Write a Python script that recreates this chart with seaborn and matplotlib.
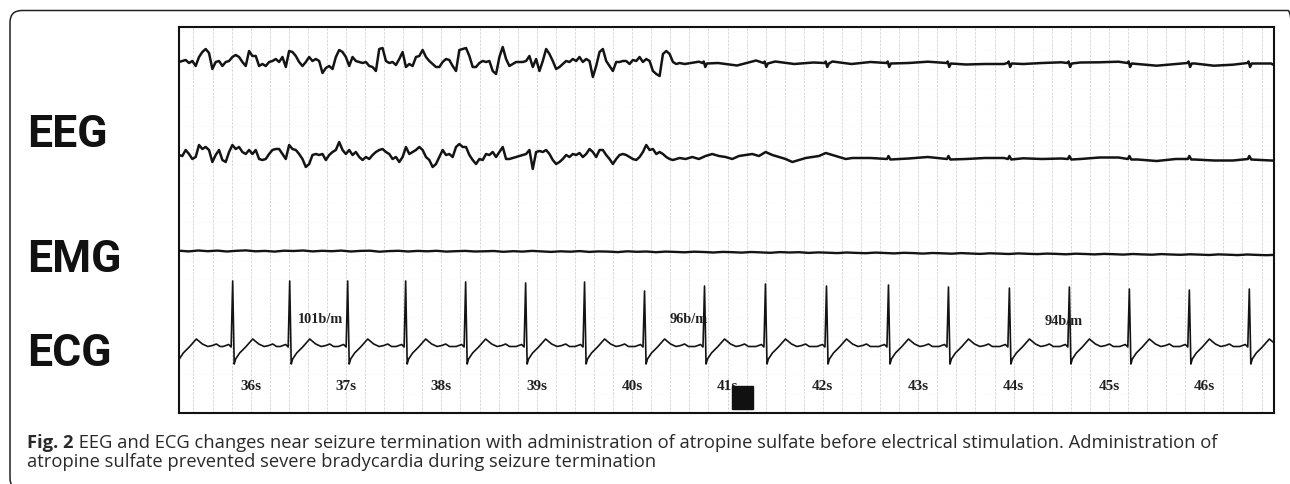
import numpy as np
import pandas as pd
import seaborn as sns
import matplotlib.pyplot as plt
from matplotlib.patches import FancyBboxPatch, Rectangle
from matplotlib.transforms import IdentityTransform

# ---- data (time in s, amplitude in trace units) ----
seconds = [36, 37, 38, 39, 40, 41, 42, 43, 44, 45, 46]
sec_labels = [str(s) + 's' for s in seconds]

# R peak times and R heights of every QRS (first one sits just left of the strip)
r_times = [35.22, 35.811, 36.409, 37.017, 37.625, 38.254, 38.883, 39.501, 40.130,
           40.759, 41.398, 42.038, 42.688, 43.317, 43.956, 44.585, 45.214, 45.843, 46.472]
r_heights = [66, 66, 66, 66, 66, 65, 64, 65, 56, 61, 63, 61, 62, 60, 59, 60, 58, 57, 58]
# shape of one beat around the R peak (None = R height of that beat)
beat_offsets = [-0.10, -0.042, -0.016, 0.0, 0.016, 0.031, 0.073, 0.136, 0.210, 0.273, 0.330, 0.380, 0.420, 0.460]
beat_values = [0.5, 2.5, 0.0, None, -17, -12, -6, 0, 8, 3, 0.5, 1.5, 3, 0.5]

hr_labels = ['101b/m', '96b/m', '94b/m']
hr_times = [36.73, 40.59, 44.53]
hr_levels = [93.5, 93.5, 91.5]

# EEG during the seizure, one sample every 0.035 s from 35.248 s
eeg_t0 = 35.248
eeg_dt = 0.035
eeg1_seizure = [2, 3, 4, 1, 3, -2, 7, 12, 15, 11, -5, 2, 3, -2, 2, 3, 7, 9, 7, 2,
                -2, 13, 8, 8, -2, 0, -2, 2, 3, 5, 2, 7, -3, 13, 12, 8, 2, -2, 2, 7,
                3, 5, 3, -9, -4, -2, -5, 7, 14, 12,
                7, -2, 7, 3, 2, 1, 2, -2, -3, -7, 15, 16, 3, 1, 2, -1, 5, 12, -3, 0,
                -2, 7, 8, 14, 7, 3, 0, -3, -3, 2, 5, 4, -2, -7, 14, 15, 16, 8, -3, -3,
                1, 3, 2, 3, -7, -10, 7, 17, 5,
                -2, 0, 2, 2, 2, 3, 8, -3, 5, -7, 3, 15, 10, 3, -5, -3, 0, 3, 2, 5,
                3, 7, 2, 5, 3, -13, -2, 12, 15, 3, -2, -7, 2, 2, 3, 3, 0, 4, 3, 7,
                2, 5, 3, -7, -10, -12, 10, 13, 10, 2, 0, 1]
eeg2_seizure = [2, 1, 7, 3, -2, 0, 12, 8, 10, 7, -5, 2, 7, -3, -5, 5, 12, 8, 10, 5,
                3, 7, 3, 7, -2, -3, -2, 3, 7, 8, 8, 3, -2, 12, 8, 7, 3, -2, -10, -7,
                2, 3, 2, 3, -3, 2, 5, 7, 15, 7,
                3, 7, 2, 5, 0, -3, 0, -2, 2, 5, 7, 8, 5, 3, -2, 0, -5, 0, 10, 3,
                5, 7, 10, 7, 0, -3, -10, -7, 0, 7, 2, 3, 0, 10, 13, 10, 10, 2, -3, -7,
                -2, -3, 3, 2, 5, 0, 5, 10, -2,
                -2, -1, 0, 1, 2, 3, 7, -12, 5, 6, 5, 7, 3, -3, -7, -5, -2, 2, 0, 3,
                2, 4, 0, 3, 8, 5, 0, 7, 7, 2, -2, -7, -2, 2, 3, 2, 0, -2, -3, 0,
                5, 12, 7, 8, 3, 5, 3, 0, -2, -3, -2, -1]
# low-amplitude tail of the second channel, every 0.07 s from 40.56 s
eeg2_tail_t0 = 40.56
eeg2_tail_dt = 0.07
eeg2_tail = [-2, 0, -2, 1, 3, 1, 0, -2, 1, 2, 3, 1, 5, 2, 0, -2, -5, -3, -1, 0,
             1, 4, 2, 0, -2, -1, -1]
# after seizure termination
eeg1_flat_t = [40.55, 40.7, 40.9, 41.1, 41.3, 41.5, 41.7, 41.9, 42.1, 42.3, 42.5, 42.9,
               43.1, 43.5, 43.7, 43.9, 44.1, 44.3, 44.5, 44.7, 44.9, 45.1, 45.3, 45.5,
               45.7, 45.9, 46.1, 46.3, 46.7, 46.74]
eeg1_flat_v = [0, 2.3, 1, -1.5, 3.5, 2.5, 0, 1.5, 2.5, 0, 2, 1,
               2.3, -0.5, 0, 0, 0, 1, 1.7, 1.5, 1.7, 2.3, 0, -1.7,
               0, 0.5, -1.7, -0.7, 0.5, -1.5]
eeg2_flat_t = [42.5, 42.9, 43.1, 43.5, 43.7, 43.9, 44.1, 44.3, 44.5, 44.7, 44.9, 45.1,
               45.3, 45.5, 45.7, 45.9, 46.1, 46.3, 46.6, 46.74]
eeg2_flat_v = [-1, -1.5, 0, -2, -1, -1, -1.3, -2, -1.5, -2, -0.5, -0.5,
               -2.5, -4, -2, -2.5, -3.5, -3.5, -3, -3.7]
# ECG pick-up on the EEG leads at each beat
eeg1_art_off = [-0.02, -0.008, 0.008, 0.025]
eeg1_art_val = [1, 2.5, -3, 0.5]
eeg2_art_off = [-0.015, 0.0, 0.02]
eeg2_art_val = [-2, 1, -2.5]

# EMG, every 0.1 s from 35.25 s
emg_t0 = 35.25
emg_dt = 0.1
emg = [0.3, -0.4, 0.5, -0.2, 0.4, -0.5, 0.2, 0.6, -0.3, 0.1,
       -0.6, 0.3, 0.0, 0.5, -0.4, 0.2, -0.2, 0.4, -0.5, 0.1,
       0.3, -0.7, -0.1, 0.2, -0.5, 0.1, -0.3, 0.2, -0.6, -0.2,
       0.1, -0.5, -0.3, 0.0, -0.8, -0.2, -0.6, 0.1, -0.4, -0.9,
       -0.3, -0.7, -0.1, -0.9, -0.4, -0.6, -1.1, -0.3, -0.8, -0.5,
       -1.2, -0.6, -0.9, -1.3, -0.7, -1.0, -1.5, -0.9, -1.2, -1.6,
       -1.0, -1.4, -1.8, -1.1, -1.5, -1.2, -1.9, -1.4, -1.7, -2.1,
       -1.5, -1.9, -2.2, -1.6, -2.0, -2.4, -1.8, -2.1, -2.6, -2.0,
       -2.3, -2.7, -2.1, -2.5, -2.9, -2.3, -2.6, -3.0, -2.4, -2.8,
       -3.1, -2.6, -2.9, -3.3, -2.7, -3.0, -3.4, -2.9, -3.2, -3.6,
       -3.0, -3.4, -3.7, -3.1, -3.5, -3.8, -3.3, -3.6, -4.0, -3.4,
       -3.7, -4.1, -3.5, -3.9, -4.2, -3.8]

stim_marker = (41.05, 41.27)   # black square under 41s

# ---- build traces ----
def uniform(t0, dt, vals):
    return list(t0 + dt * np.arange(len(vals))), list(vals)

def artifacts(beats, offs, vals, after):
    tt, vv = [], []
    for b in beats:
        if b > after:
            tt += [b + o for o in offs]
            vv += vals
    return tt, vv

def frame(*parts):
    t = sum([p[0] for p in parts], [])
    v = sum([p[1] for p in parts], [])
    return pd.DataFrame({'t': t, 'v': v}).sort_values('t')

eeg1 = frame(uniform(eeg_t0, eeg_dt, eeg1_seizure), (eeg1_flat_t, eeg1_flat_v),
             artifacts(r_times, eeg1_art_off, eeg1_art_val, 40.6))
eeg2 = frame(uniform(eeg_t0, eeg_dt, eeg2_seizure), uniform(eeg2_tail_t0, eeg2_tail_dt, eeg2_tail),
             (eeg2_flat_t, eeg2_flat_v), artifacts(r_times, eeg2_art_off, eeg2_art_val, 42.4))
emg_df = frame(uniform(emg_t0, emg_dt, emg))
ecg_t, ecg_v = [], []
for rt, rh in zip(r_times, r_heights):
    ecg_t += [rt + o for o in beat_offsets]
    ecg_v += [rh if v is None else v for v in beat_values]
ecg = frame((ecg_t, ecg_v))

# vertical placement of each channel on the strip
base = {'eeg1': 348.5, 'eeg2': 255.5, 'emg': 161.5, 'ecg': 65.5}

# ---- figure ----
sns.set_theme(style='white')
plt.rcParams['font.family'] = ['DejaVu Sans']

fig = plt.figure(figsize=(12.9, 4.85), dpi=100)
ax = fig.add_axes([178.7 / 1290, (485 - 413.5) / 485, (1274.3 - 178.7) / 1290, (413.5 - 27.7) / 485])
ax.set_xlim(35.245, 46.734)
ax.set_ylim(0, 385.8)

# chart paper grid
grid_t = np.round(np.arange(35.4, 46.7, 0.2), 2)
ax.vlines(grid_t, 0, 385.8, colors='#d2d2d2', linewidth=0.6, linestyles=(0, (3, 1.5)), zorder=1)
ax.hlines(np.arange(19, 385, 19.1), 35.245, 46.734, colors='#f2f2f2', linewidth=0.5,
          linestyles=(0, (1, 2.5)), zorder=1)

ink = '#141414'
sns.lineplot(x=eeg1['t'], y=eeg1['v'] + base['eeg1'], ax=ax, color=ink, linewidth=1.8,
             sort=False, estimator=None, zorder=3)
sns.lineplot(x=eeg2['t'], y=eeg2['v'] + base['eeg2'], ax=ax, color=ink, linewidth=1.8,
             sort=False, estimator=None, zorder=3)
sns.lineplot(x=emg_df['t'], y=emg_df['v'] + base['emg'], ax=ax, color=ink, linewidth=1.7,
             sort=False, estimator=None, zorder=3)
sns.lineplot(x=ecg['t'], y=ecg['v'] + base['ecg'], ax=ax, color=ink, linewidth=1.2,
             sort=False, estimator=None, zorder=3)

for s, lab in zip(seconds, sec_labels):
    ax.text(s, 26.5, lab, ha='center', va='center', fontsize=11, fontweight='bold',
            family='Liberation Serif', color='#202020', zorder=4)
for t, lab, lv in zip(hr_times, hr_labels, hr_levels):
    ax.text(t, lv, lab, ha='center', va='center', fontsize=10.3, fontweight='bold',
            family='Liberation Serif', color='#202020', zorder=2)
ax.add_patch(Rectangle((stim_marker[0], 3.5), stim_marker[1] - stim_marker[0], 23,
                       color='#111111', zorder=5))

ax.set_xticks([])
ax.set_yticks([])
ax.set_xlabel('')
ax.set_ylabel('')
for sp in ax.spines.values():
    sp.set_color('#111111')
    sp.set_linewidth(1.5)

# channel names
fig.text(27 / 1290, (485 - 147) / 485, 'EEG', fontsize=32, fontweight='bold', family='Roboto',
         va='baseline', color='#111111')
fig.text(27 / 1290, (485 - 271.7) / 485, 'EMG', fontsize=32, fontweight='bold', family='Roboto',
         va='baseline', color='#111111')
fig.text(27 / 1290, (485 - 366.5) / 485, 'ECG', fontsize=32, fontweight='bold', family='Roboto',
         va='baseline', color='#111111')

# caption
fig.canvas.draw()
rend = fig.canvas.get_renderer()
cap_color = '#2a2a2a'
t1 = fig.text(27 / 1290, (485 - 448) / 485, 'Fig. 2', fontsize=13.2, fontweight='bold',
              family='Open Sans', va='baseline', color=cap_color)
bb = t1.get_window_extent(rend)
fig.text(bb.x1 / 1290, (485 - 448) / 485,
         ' EEG and ECG changes near seizure termination with administration of atropine sulfate '
         'before electrical stimulation. Administration of',
         fontsize=13.2, family='Open Sans', va='baseline', color=cap_color)
fig.text(27 / 1290, (485 - 467.5) / 485,
         'atropine sulfate prevented severe bradycardia during seizure termination',
         fontsize=13.2, family='Open Sans', va='baseline', color=cap_color)

# rounded frame around the figure panel
frame_box = FancyBboxPatch((10, -6), 1290, 485 - 11.5 + 6,
                           boxstyle='round,pad=0,rounding_size=12',
                           transform=IdentityTransform(), fill=False,
                           edgecolor='#222222', linewidth=1.1)
fig.add_artist(frame_box)

fig.savefig('out.png', dpi=100)
